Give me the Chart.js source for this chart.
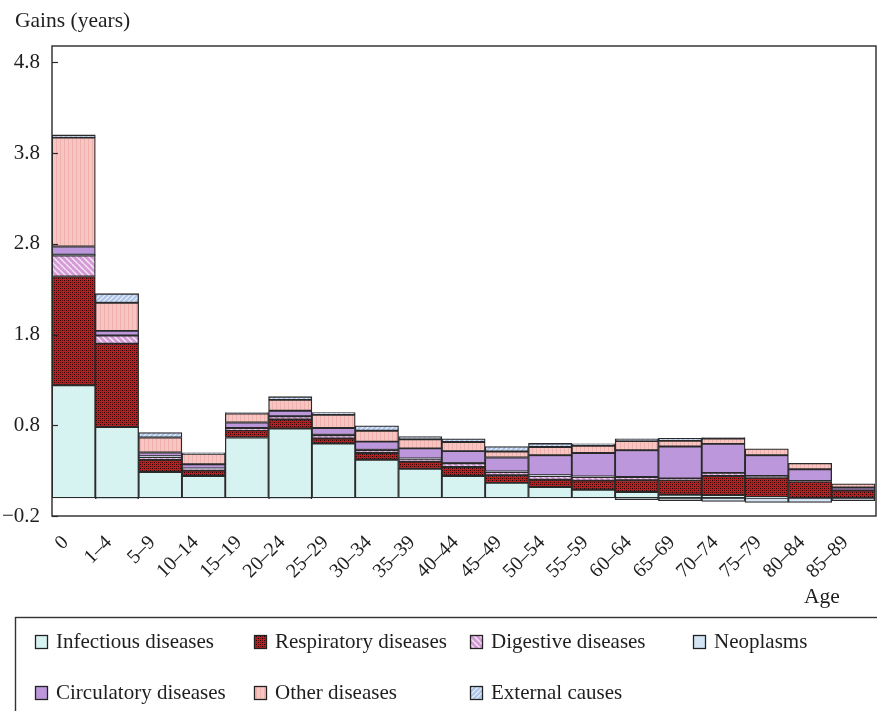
<!DOCTYPE html>
<html>
<head>
<meta charset="utf-8">
<script src="https://cdn.jsdelivr.net/npm/chart.js@4.4.1/dist/chart.umd.min.js"></script>
<style>
  html, body { margin: 0; padding: 0; background: #fff; }
  canvas { display: block; }
</style>
</head>
<body>
<canvas id="c" width="877" height="711"></canvas>
<script>
// Age groups and contributions (years) of each cause of death to life expectancy gains
const ageGroups = ['0', '1–4', '5–9', '10–14', '15–19', '20–24', '25–29', '30–34', '35–39', '40–44',
                   '45–49', '50–54', '55–59', '60–64', '65–69', '70–74', '75–79', '80–84', '85–89'];
const infectious    = [1.24, 0.78, 0.285, 0.24, 0.665, 0.765, 0.60, 0.42, 0.32, 0.24, 0.165, 0.12, 0.09, 0.065, 0.035, 0.03, 0.01, 0.0, 0.0];
const respiratory   = [1.20, 0.92, 0.135, 0.06, 0.08, 0.10, 0.055, 0.075, 0.08, 0.10, 0.085, 0.08, 0.10, 0.13, 0.16, 0.21, 0.21, 0.18, 0.08];
const digestive     = [0.23, 0.09, 0.03, 0.02, 0.02, 0.035, 0.035, 0.03, 0.03, 0.04, 0.035, 0.04, 0.04, 0.035, 0.02, 0.035, 0.02, 0.005, 0.0];
const neoplasms     = [0.01, -0.01, 0.01, 0.005, 0.005, -0.01, 0.005, 0.005, 0.005, 0.005, 0.005, 0.01, 0.005, -0.02, -0.03, -0.04, -0.05, -0.05, -0.03];
const circulatory   = [0.09, 0.05, 0.04, 0.045, 0.06, 0.06, 0.075, 0.09, 0.11, 0.13, 0.155, 0.22, 0.26, 0.295, 0.35, 0.32, 0.23, 0.13, 0.035];
const otherDiseases = [1.20, 0.31, 0.165, 0.115, 0.10, 0.12, 0.145, 0.12, 0.10, 0.10, 0.065, 0.09, 0.08, 0.10, 0.065, 0.06, 0.07, 0.065, 0.04];
const externalCauses = [0.03, 0.10, 0.055, 0.01, 0.01, 0.035, 0.025, 0.055, 0.03, 0.035, 0.055, 0.04, 0.02, 0.025, 0.025, 0.01, 0.0, 0.0, 0.0];
const yTickValues = [-0.2, 0.8, 1.8, 2.8, 3.8, 4.8];

const FONT = '"Liberation Serif", "Times New Roman", serif';
const INK = '#1e1e1e';

// Small repeating tiles used as bar fills
function makePattern(size, paint) {
  const tile = document.createElement('canvas');
  tile.width = size; tile.height = size;
  const g = tile.getContext('2d');
  paint(g, size);
  return g.createPattern(tile, 'repeat');
}
function diagonal(g, s, color, width, rising) {
  g.strokeStyle = color; g.lineWidth = width; g.beginPath();
  [-s, 0, s].forEach(o => {
    if (rising) { g.moveTo(o, s); g.lineTo(o + s, 0); }
    else { g.moveTo(o, 0); g.lineTo(o + s, s); }
  });
  g.stroke();
}

const fillInfectious = '#d7f3f1';
const fillRespiratory = makePattern(4, (g) => {
  g.fillStyle = '#b22222'; g.fillRect(0, 0, 4, 4);
  g.fillStyle = '#1a0404'; g.fillRect(0, 0, 1, 1); g.fillRect(2, 2, 1, 1);
  g.fillStyle = '#7a1010'; g.fillRect(2, 0, 1, 1); g.fillRect(0, 2, 1, 1);
});
const fillDigestive = makePattern(6, (g, s) => {
  g.fillStyle = '#d49bd6'; g.fillRect(0, 0, s, s);
  diagonal(g, s, '#f6e6f6', 1.4, false);
});
const fillNeoplasms = '#d3e4f4';
const fillCirculatory = '#bd97dc';
const fillOther = makePattern(4, (g) => {
  g.fillStyle = '#f7c6c3'; g.fillRect(0, 0, 4, 4);
  g.fillStyle = '#eeb1ae'; g.fillRect(0, 0, 1, 4);
});
const fillExternal = makePattern(5, (g, s) => {
  g.fillStyle = '#afc6ea'; g.fillRect(0, 0, s, s);
  diagonal(g, s, '#eef3fb', 1.2, true);
});

function series(label, data, fill) {
  return {
    label, data,
    backgroundColor: fill,
    borderColor: '#2a2a2a',
    borderWidth: 1.3,
    borderSkipped: false,
    barPercentage: 1.0,
    categoryPercentage: 1.0
  };
}

// Frame, inward ticks, axis captions and the boxed two-row legend
const decorations = {
  id: 'decorations',
  afterDraw(chart) {
    const ctx = chart.ctx;
    const area = chart.chartArea;
    const yScale = chart.scales.y;
    ctx.save();

    ctx.strokeStyle = '#2a2a2a';
    ctx.lineWidth = 1.4;
    ctx.strokeRect(area.left, area.top, area.right - area.left + 1, area.bottom - area.top);

    ctx.lineWidth = 1.2;
    yScale.ticks.forEach(t => {
      const py = Math.round(yScale.getPixelForValue(t.value)) + 0.5;
      ctx.beginPath(); ctx.moveTo(area.left, py); ctx.lineTo(area.left + 6, py); ctx.stroke();
    });

    ctx.fillStyle = INK;
    ctx.font = '21.5px ' + FONT;
    ctx.textBaseline = 'middle';
    ctx.textAlign = 'left';
    ctx.fillText('Gains (years)', 15, 21);
    ctx.textAlign = 'center';
    ctx.fillText('Age', 822, 597);

    // legend frame
    ctx.strokeStyle = '#333';
    ctx.lineWidth = 1.4;
    ctx.strokeRect(15.5, 617.5, 900, 200);

    const cols = [35, 254, 470, 693];
    const rows = [641, 692];
    ctx.textAlign = 'left';
    ctx.font = '21px ' + FONT;
    chart.data.datasets.forEach((ds, i) => {
      const col = i < 4 ? i : i - 4;
      const row = i < 4 ? 0 : 1;
      const x = cols[col], y = rows[row];
      ctx.fillStyle = ds.backgroundColor;
      ctx.fillRect(x, y - 6, 12, 13);
      ctx.strokeStyle = '#222';
      ctx.lineWidth = 1.3;
      ctx.strokeRect(x + 0.5, y - 5.5, 12, 13);
      ctx.fillStyle = INK;
      ctx.fillText(ds.label, x + 21, y + 1);
    });
    ctx.restore();
  }
};

new Chart(document.getElementById('c'), {
  type: 'bar',
  data: {
    labels: ageGroups,
    datasets: [
      series('Infectious diseases', infectious, fillInfectious),
      series('Respiratory diseases', respiratory, fillRespiratory),
      series('Digestive diseases', digestive, fillDigestive),
      series('Neoplasms', neoplasms, fillNeoplasms),
      series('Circulatory diseases', circulatory, fillCirculatory),
      series('Other diseases', otherDiseases, fillOther),
      series('External causes', externalCauses, fillExternal)
    ]
  },
  options: {
    responsive: false,
    animation: false,
    devicePixelRatio: 1,
    layout: { padding: { top: 46, right: 2, bottom: 99, left: 0 } },
    plugins: {
      legend: { display: false },
      tooltip: { enabled: false },
      title: { display: false }
    },
    scales: {
      x: {
        stacked: true,
        offset: true,
        grid: { display: false, drawTicks: false },
        border: { display: false },
        ticks: {
          autoSkip: false,
          minRotation: 45,
          maxRotation: 45,
          padding: 15,
          labelOffset: -8,
          color: INK,
          font: { family: FONT, size: 20 }
        },
        afterFit(scale) {
          scale.height = 96;
          scale.paddingLeft = 0;
          scale.paddingRight = 0;
        }
      },
      y: {
        stacked: true,
        min: -0.2,
        max: 4.98,
        grid: { display: false, drawTicks: false },
        border: { display: false },
        afterBuildTicks(scale) { scale.ticks = yTickValues.map(v => ({ value: v })); },
        ticks: {
          padding: 12,
          color: INK,
          font: { family: FONT, size: 21 },
          callback: (v) => (v < 0 ? '−' : '') + Math.abs(v).toFixed(1)
        },
        afterFit(scale) {
          scale.width = 52;
          scale.paddingTop = 0;
          scale.paddingBottom = 0;
        }
      }
    }
  },
  plugins: [decorations]
});
</script>
</body>
</html>
